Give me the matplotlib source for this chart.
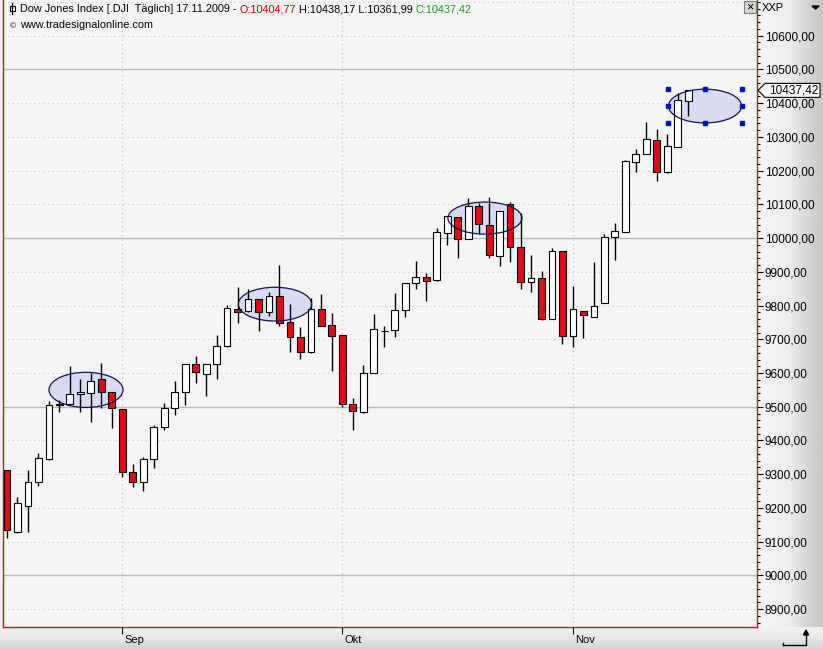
import matplotlib
matplotlib.use('Agg')
import matplotlib.pyplot as plt
import numpy as np
from matplotlib.patches import Ellipse, Polygon, Rectangle
from matplotlib.lines import Line2D
from matplotlib.colors import LinearSegmentedColormap
from matplotlib.ticker import MultipleLocator, FixedLocator, FuncFormatter
from matplotlib.transforms import IdentityTransform, ScaledTranslation

plt.rcParams['font.family'] = ['Liberation Sans', 'DejaVu Sans']

# Dow Jones daily candles, 17.08.2009 - 17.11.2009
opens = [9313, 9129, 9206, 9277, 9345, 9508, 9508, 9538, 9541, 9582, 9544,
         9493, 9307, 9277, 9345, 9440, 9496, 9544, 9627, 9597, 9627, 9680,
         9790, 9784, 9819, 9781, 9828, 9751, 9707, 9662, 9790, 9742,
         9713, 9508, 9484, 9600, 9725, 9727, 9787, 9867, 9884, 9876, 10015,
         10062, 9997, 10095, 10039, 9947, 10101, 9973, 9870, 9882, 9760, 9962,
         9710, 9784, 9766, 9807, 10003, 10018, 10225, 10249, 10290, 10196,
         10270, 10404.77]
highs = [9314, 9233, 9313, 9363, 9517, 9520, 9621, 9582, 9600, 9630, 9545,
         9494, 9330, 9351, 9446, 9511, 9576, 9628, 9650, 9628, 9713, 9802,
         9855, 9849, 9820, 9840, 9920, 9804, 9736, 9822, 9834, 9778,
         9713, 9526, 9624, 9775, 9739, 9837, 9868, 9932, 9896, 10030, 10066,
         10063, 10119, 10104, 10122, 10081, 10107, 10074, 9950, 9902, 9970, 9962,
         9858, 9784, 9929, 10012, 10044, 10231, 10264, 10344, 10323, 10308,
         10430, 10438.17]
lows = [9111, 9126, 9129, 9265, 9342, 9484, 9505, 9484, 9455, 9496, 9437,
        9292, 9262, 9250, 9318, 9431, 9475, 9505, 9570, 9532, 9582, 9678,
        9748, 9782, 9724, 9769, 9739, 9662, 9641, 9660, 9738, 9606,
        9499, 9431, 9481, 9599, 9677, 9707, 9766, 9849, 9813, 9874, 9979,
        9941, 9996, 10012, 9941, 9917, 9929, 9849, 9840, 9757, 9759, 9686,
        9677, 9704, 9765, 9806, 9935, 10017, 10196, 10248, 10169, 10193,
        10269, 10361.99]
closes = [9135, 9215, 9277, 9348, 9505, 9506, 9538, 9544, 9576, 9544, 9496,
          9307, 9277, 9345, 9440, 9496, 9544, 9627, 9603, 9627, 9680, 9793,
          9781, 9819, 9781, 9828, 9748, 9707, 9662, 9790, 9739, 9710,
          9508, 9487, 9600, 9730, 9724, 9787, 9867, 9884, 9873, 10018, 10065,
          9997, 10095, 10042, 9950, 10080, 9973, 9870, 9882, 9760, 9962, 9710,
          9790, 9772, 9799, 10003, 10021, 10228, 10249, 10293, 10196, 10273,
          10409, 10437.42]

month_pos = [11, 32, 54]          # first trading day of each month
month_labels = ['Sep', 'Okt', 'Nov']
price_levels = list(range(8900, 10601, 100))

# highlighted zones: (center index, center price, width in bars, height in points)
zones = [(7.54, 9550, 7.06, 104), (25.57, 9804, 7.0, 100),
         (45.6, 10059, 7.06, 95), (66.6, 10391, 6.97, 100)]

W, H = 823, 649
fig = plt.figure(figsize=(W / 100, H / 100), dpi=100)
fig.patch.set_facecolor('#f2f2f2')

def fx(px):
    return px / W

def fy(py):
    return 1 - py / H

# side panels with grey gradients
right = fig.add_axes([fx(757), 22 / H, fx(66), 627 / H])
right.imshow(np.linspace(0, 1, 64)[None, :], aspect='auto', extent=[0, 1, 0, 1],
             cmap=LinearSegmentedColormap.from_list('r', ['#f6f6f6', '#ececec', '#c6c6c6']))
right.axis('off')
bottom = fig.add_axes([0, 0, 1, 22 / H])
bottom.imshow(np.linspace(0, 1, 32)[:, None], aspect='auto', extent=[0, 1, 0, 1], origin='lower',
              cmap=LinearSegmentedColormap.from_list('b', ['#d4d4d4', '#e8e8e8', '#f2f2f2']))
bottom.axis('off')

ax = fig.add_axes([fx(3), 22 / H, fx(754), 627 / H])
ax.set_facecolor('#f5f5f5')
ax.set_xlim(-0.38, 71.56)
ax.set_ylim(8847.4, 10705.2)

# grid
for lvl in range(8900, 10701, 100):
    if lvl % 500 == 0:
        ax.axhline(lvl, color='#b3bbb3', lw=1.0, zorder=1)
    else:
        ax.axhline(lvl, color='#c4c4c4', lw=0.8, ls=(0, (1, 3)), zorder=1)
for m in month_pos:
    ax.axvline(m, color='#bcbcbc', lw=0.8, ls=(0, (1, 3)), zorder=1)

# zones (fill behind candles, outline above)
for cx, cy, w, h in zones:
    ax.add_patch(Ellipse((cx, cy), w, h, facecolor='#d8dbf2', edgecolor='none', zorder=2))

x = np.arange(len(closes))
o = np.array(opens)
c = np.array(closes)
up = c >= o
ax.vlines(x, lows, highs, color='black', lw=1, zorder=3)
ax.bar(x, np.maximum(np.abs(c - o), 0.8), bottom=np.minimum(o, c), width=0.65,
       color=np.where(up, 'white', '#e20a14'), edgecolor='black', linewidth=0.8, zorder=4)

for cx, cy, w, h in zones:
    ax.add_patch(Ellipse((cx, cy), w, h, facecolor='none', edgecolor='#101050', lw=0.9, zorder=5))

# selection handles on the last zone
cx, cy, w, h = zones[-1]
hx = [cx - w / 2, cx, cx + w / 2, cx - w / 2, cx + w / 2, cx - w / 2, cx, cx + w / 2]
hy = [cy + h / 2] * 3 + [cy] * 2 + [cy - h / 2] * 3
ax.plot(hx, hy, 's', color='#0010d0', ms=3.2, zorder=6, clip_on=False)

# axes styling
for s in ['left', 'right', 'bottom']:
    ax.spines[s].set_color('#cc1018')
    ax.spines[s].set_linewidth(1)
ax.spines['top'].set_visible(False)

ax.yaxis.tick_right()
ax.yaxis.set_major_locator(FixedLocator(price_levels))
ax.yaxis.set_minor_locator(MultipleLocator(20))
ax.yaxis.set_major_formatter(FuncFormatter(lambda v, p: f'{v:.2f}'.replace('.', ',')))
ax.tick_params(axis='y', which='major', direction='out', length=4, width=0.8, pad=1.5, labelsize=8.5)
ax.tick_params(axis='y', which='minor', direction='out', length=2, width=0.8)
ax.set_xticks(month_pos)
ax.set_xticklabels(month_labels)
ax.tick_params(axis='x', direction='out', length=5, width=0.8, pad=1, labelsize=8)
for lab in ax.get_xticklabels():
    lab.set_ha('left')
    lab.set_transform(lab.get_transform() + ScaledTranslation(2 / 100, 0, fig.dpi_scale_trans))

# header with coloured values
parts = [('Dow Jones Index [.DJI  Täglich] 17.11.2009 - ', 'black'),
         ('O:10404,77', '#d00000'),
         (' H:10438,17 L:10361,99 ', 'black'),
         ('C:10437,42', '#10a010')]
t = ax.text(17 / 754, 1 - 14 / 627, parts[0][0], transform=ax.transAxes, fontsize=7.8,
            color=parts[0][1], va='bottom', ha='left')
for s, col in parts[1:]:
    t = ax.annotate(s, xy=(1, 0), xycoords=t, va='bottom', ha='left', fontsize=7.8, color=col)
ax.text(17 / 754, 1 - 30 / 627, 'www.tradesignalonline.com', transform=ax.transAxes,
        fontsize=7.8, va='bottom', ha='left')
ax.text(7 / 754, 1 - 30 / 627, '©', transform=ax.transAxes, fontsize=6, va='bottom', ha='left')

# small candle icon in the header
fig.add_artist(Line2D([fx(12), fx(12)], [fy(3), fy(14)], color='black', lw=1))
fig.add_artist(Rectangle((fx(9.5), fy(11)), fx(5), 5 / H, facecolor='white', edgecolor='black', lw=0.8))

# right panel header
fig.text(fx(762), fy(8), 'XXP', fontsize=8, va='center', ha='left')
fig.add_artist(Polygon([[fx(812), fy(6)], [fx(819), fy(6)], [fx(815.5), fy(9)]],
                       closed=True, color='black'))
fig.add_artist(Rectangle((fx(744), fy(13)), fx(12), 12 / H, facecolor='#d4d4d4',
                         edgecolor='#808080', lw=0.8))
fig.text(fx(750), fy(7), '×', fontsize=9, va='center', ha='center')

# last price marker
fig.canvas.draw()
py = ax.transData.transform((0, closes[-1]))[1]
px0 = ax.transAxes.transform((1, 0))[0]
fig.add_artist(Polygon([[px0 + 1, py], [px0 + 8, py + 7], [px0 + 63, py + 7],
                        [px0 + 63, py - 7], [px0 + 8, py - 7]], closed=True,
                       transform=IdentityTransform(), facecolor='white', edgecolor='black', lw=0.8))
fig.text(fx(794), py / H, f'{closes[-1]:.2f}'.replace('.', ','),
         fontsize=8.5, va='center', ha='center')

# corner icon
fig.add_artist(Line2D([fx(783), fx(806), fx(806)], [fy(645), fy(645), fy(632)], color='black', lw=1))
fig.add_artist(Line2D([fx(783), fx(783)], [fy(643), fy(645)], color='black', lw=1))
fig.add_artist(Polygon([[fx(803.5), fy(635)], [fx(808.5), fy(635)], [fx(806), fy(630)]],
                       closed=True, color='black'))

fig.savefig('out.png', dpi=100, facecolor=fig.get_facecolor())
